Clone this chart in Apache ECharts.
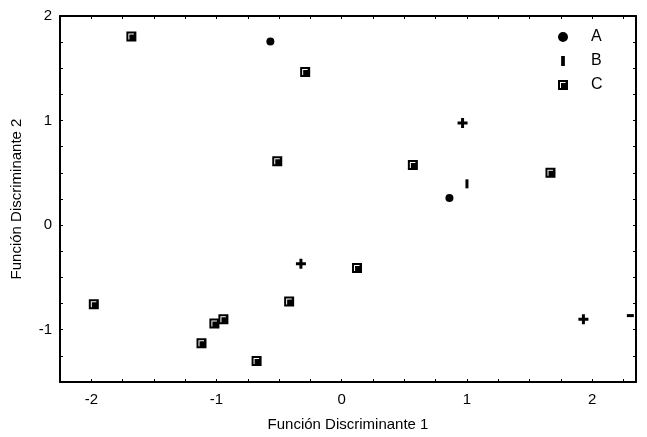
<!DOCTYPE html>
<html>
<head>
<meta charset="utf-8">
<script src="https://cdn.jsdelivr.net/npm/echarts@6/dist/echarts.min.js"></script>
<style>html,body{margin:0;padding:0;background:#fff;overflow:hidden}#c{width:647px;height:437px}</style>
</head>
<body>
<div id="c"></div>
<script>
// Data
var seriesA = [[-0.57, 1.755], [0.86, 0.26]];
var seriesB = [[1.0, 0.395]];
var seriesBPlus = [[0.965, 0.977], [-0.326, -0.37], [1.93, -0.90]];
var seriesBMinus = [[2.305, -0.865]];
var seriesC = [[-1.68, 1.805], [-0.292, 1.464], [-0.515, 0.612], [0.568, 0.574], [1.667, 0.502],
  [0.122, -0.41], [-1.98, -0.756], [-0.42, -0.73], [-1.017, -0.94], [-0.945, -0.90], [-1.12, -1.13], [-0.68, -1.30]];
var legendNames = ['A', 'B', 'C'];
var xTitle = 'Función Discriminante 1';
var yTitle = 'Función Discriminante 2';

var FONT = 'Liberation Sans, Arial, sans-serif';
var barPath = 'path://M0,0H3V8H0Z';
var plusPath = 'path://M3.5,0H6.5V3.5H10V6.5H6.5V10H3.5V6.5H0V3.5H3.5Z';
var minusPath = 'path://M0,0H7V3H0Z';
var squarePath = 'path://M0,0H10V10H0Z M2,2V8H3V3H7.5V2Z';

function intLabel(v) {
  var r = Math.round(v);
  return Math.abs(v - r) < 1e-6 ? String(r) : '';
}
var axisLineStyle = { color: '#000', width: 2 };
var tickStyle = { show: true, inside: true, length: 3, lineStyle: { color: '#000', width: 1 } };
var markStyle = { color: '#000', opacity: 1 };

var chart = echarts.init(document.getElementById('c'), null, { renderer: 'canvas', width: 647, height: 437 });
chart.setOption({
  animation: false,
  backgroundColor: '#fff',
  grid: { left: 60, top: 16, width: 576, height: 370, containLabel: false },
  xAxis: [{
    type: 'value', min: -2.25, max: 2.35, interval: 0.25,
    name: xTitle, nameLocation: 'middle', nameGap: 35,
    nameTextStyle: { fontFamily: FONT, fontSize: 15, color: '#000' },
    axisLine: { show: true, onZero: false, lineStyle: axisLineStyle },
    axisTick: tickStyle,
    axisLabel: { formatter: intLabel, fontFamily: FONT, fontSize: 15, color: '#000', margin: 10, showMaxLabel: false, showMinLabel: false },
    splitLine: { show: false }
  }, {
    type: 'value', position: 'top', min: -2.25, max: 2.35, interval: 0.25,
    axisLine: { show: true, onZero: false, lineStyle: axisLineStyle },
    axisTick: tickStyle, axisLabel: { show: false }, splitLine: { show: false }
  }],
  yAxis: [{
    type: 'value', min: -1.5, max: 2, interval: 0.25,
    name: yTitle, nameLocation: 'middle', nameGap: 36,
    nameTextStyle: { fontFamily: FONT, fontSize: 15, color: '#000' },
    axisLine: { show: true, onZero: false, lineStyle: axisLineStyle },
    axisTick: tickStyle,
    axisLabel: { formatter: intLabel, fontFamily: FONT, fontSize: 15, color: '#000', margin: 8 },
    splitLine: { show: false }
  }, {
    type: 'value', position: 'right', min: -1.5, max: 2, interval: 0.25,
    axisLine: { show: true, onZero: false, lineStyle: axisLineStyle },
    axisTick: tickStyle, axisLabel: { show: false }, splitLine: { show: false }
  }],
  legend: {
    orient: 'vertical', left: 558, top: 29, selectedMode: false,
    itemWidth: 46, itemHeight: 10, itemGap: 8, padding: 0,
    textStyle: { fontFamily: FONT, fontSize: 16, color: '#000' },
    data: [
      { name: legendNames[0], icon: 'path://M4,0A4,4,0,1,1,3.99,0Z' },
      { name: legendNames[1], icon: 'path://M0,0H3V8H0Z' },
      { name: legendNames[2], icon: squarePath }
    ]
  },
  series: [
    { name: legendNames[0], type: 'scatter', data: seriesA, symbol: 'circle', symbolSize: 8,
      itemStyle: markStyle },
    { name: legendNames[1], type: 'scatter', data: seriesB, symbol: barPath, symbolSize: [3, 9],
      itemStyle: markStyle },
    { name: 'B+', type: 'scatter', data: seriesBPlus, symbol: plusPath, symbolSize: 10,
      itemStyle: markStyle },
    { name: 'B-', type: 'scatter', data: seriesBMinus, symbol: minusPath, symbolSize: [7, 3],
      itemStyle: markStyle },
    { name: legendNames[2], type: 'scatter', data: seriesC, symbol: squarePath, symbolSize: 10,
      itemStyle: markStyle }
  ]
});
</script>
</body>
</html>
